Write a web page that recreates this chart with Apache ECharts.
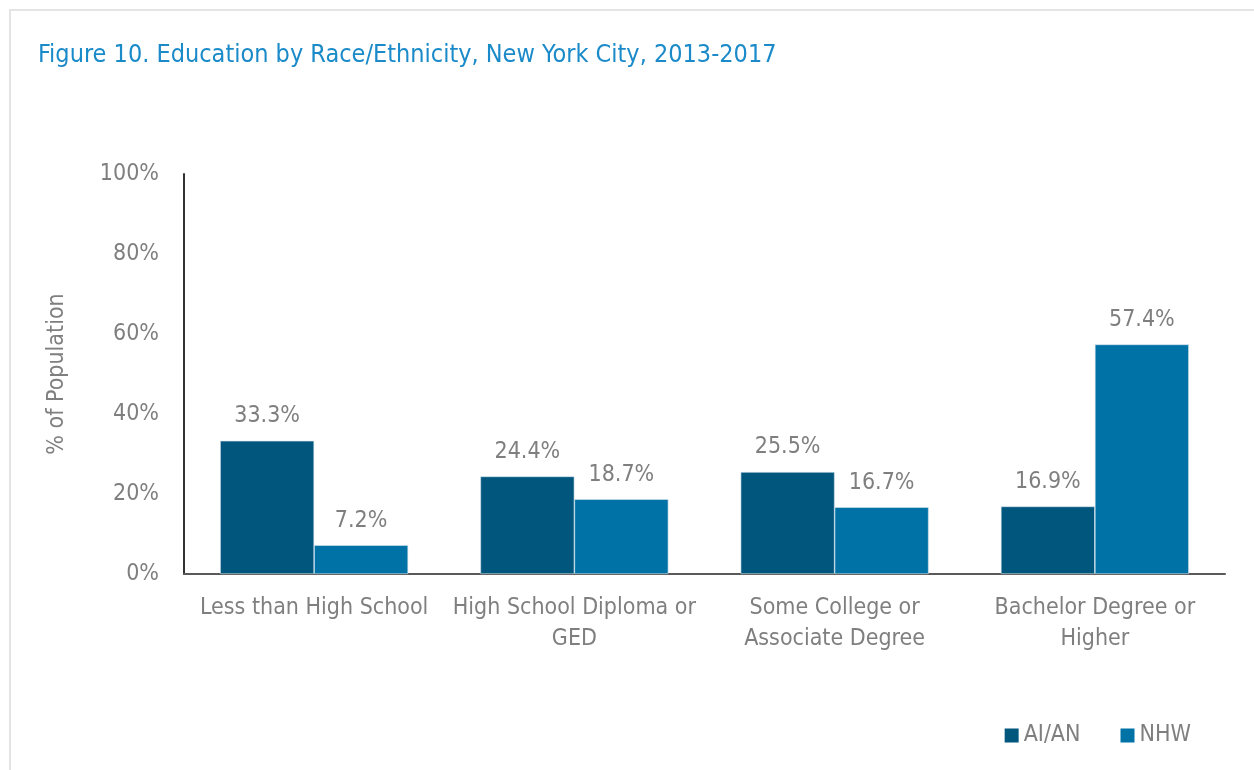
<!DOCTYPE html>
<html>
<head>
<meta charset="utf-8">
<script src="https://cdn.jsdelivr.net/npm/echarts@6/dist/echarts.min.js"></script>
<style>
  html, body { margin: 0; padding: 0; background: #fff; }
  #chart { width: 1254px; height: 770px; }
</style>
</head>
<body>
<div id="chart"></div>
<script>
// Education levels (categories) and share of population per group
const categories = [
  'Less than High School',
  'High School Diploma or\nGED',
  'Some College or\nAssociate Degree',
  'Bachelor Degree or\nHigher'
];
const aian = [33.3, 24.4, 25.5, 16.9];
const nhw = [7.2, 18.7, 16.7, 57.4];
const yTicks = [0, 20, 40, 60, 80, 100];

const FONT = '"Liberation Sans Narrow", "Arial Narrow", "DejaVu Sans Condensed", sans-serif';
const GREY = '#7f7f7f';

const chart = echarts.init(document.getElementById('chart'), null, { renderer: 'canvas' });

const labelStyle = {
  show: true,
  position: 'top',
  distance: 13,
  color: GREY,
  fontFamily: FONT,
  fontSize: 23,
  formatter: p => p.value.toFixed(1) + '%'
};

chart.setOption({
  animation: false,
  backgroundColor: '#fff',
  graphic: [{
    type: 'rect',
    shape: { x: 10, y: 10, width: 1300, height: 800 },
    style: { fill: 'none', stroke: '#e4e4e4', lineWidth: 2 },
    silent: true
  }],
  title: {
    text: 'Figure 10. Education by Race/Ethnicity, New York City, 2013-2017',
    left: 33,
    top: 38,
    textStyle: { color: '#1a8ac9', fontFamily: FONT, fontSize: 25, fontWeight: 'normal' }
  },
  legend: {
    right: 58,
    top: 719,
    itemWidth: 14,
    itemHeight: 14,
    itemGap: 40,
    icon: 'rect',
    itemStyle: { borderWidth: 0 },
    textStyle: { color: GREY, fontFamily: FONT, fontSize: 23 },
    data: ['AI/AN', 'NHW']
  },
  grid: { left: 184, right: 29, top: 174, bottom: 196, containLabel: false },
  xAxis: {
    type: 'category',
    data: categories,
    axisLine: { lineStyle: { color: '#595959', width: 2 } },
    axisTick: { show: false },
    axisLabel: {
      color: GREY, fontFamily: FONT, fontSize: 23, margin: 19, lineHeight: 31, interval: 0
    }
  },
  yAxis: {
    type: 'value',
    min: yTicks[0],
    max: yTicks[yTicks.length - 1],
    interval: 20,
    name: '% of Population',
    nameLocation: 'middle',
    nameGap: 115,
    nameTextStyle: { color: GREY, fontFamily: FONT, fontSize: 23 },
    axisLine: { show: true, lineStyle: { color: '#333', width: 2 } },
    axisTick: { show: false },
    splitLine: { show: false },
    axisLabel: {
      color: GREY, fontFamily: FONT, fontSize: 23, margin: 25,
      formatter: v => v + '%'
    }
  },
  series: [
    {
      name: 'AI/AN',
      type: 'bar',
      data: aian,
      barWidth: 94,
      barGap: '0%',
      itemStyle: { color: '#00567d', borderColor: '#d6e6ef', borderWidth: 0.6 },
      label: labelStyle
    },
    {
      name: 'NHW',
      type: 'bar',
      data: nhw,
      barWidth: 94,
      barGap: '0%',
      itemStyle: { color: '#0072a6', borderColor: '#d6e6ef', borderWidth: 0.6 },
      label: labelStyle
    }
  ]
});
</script>
</body>
</html>
